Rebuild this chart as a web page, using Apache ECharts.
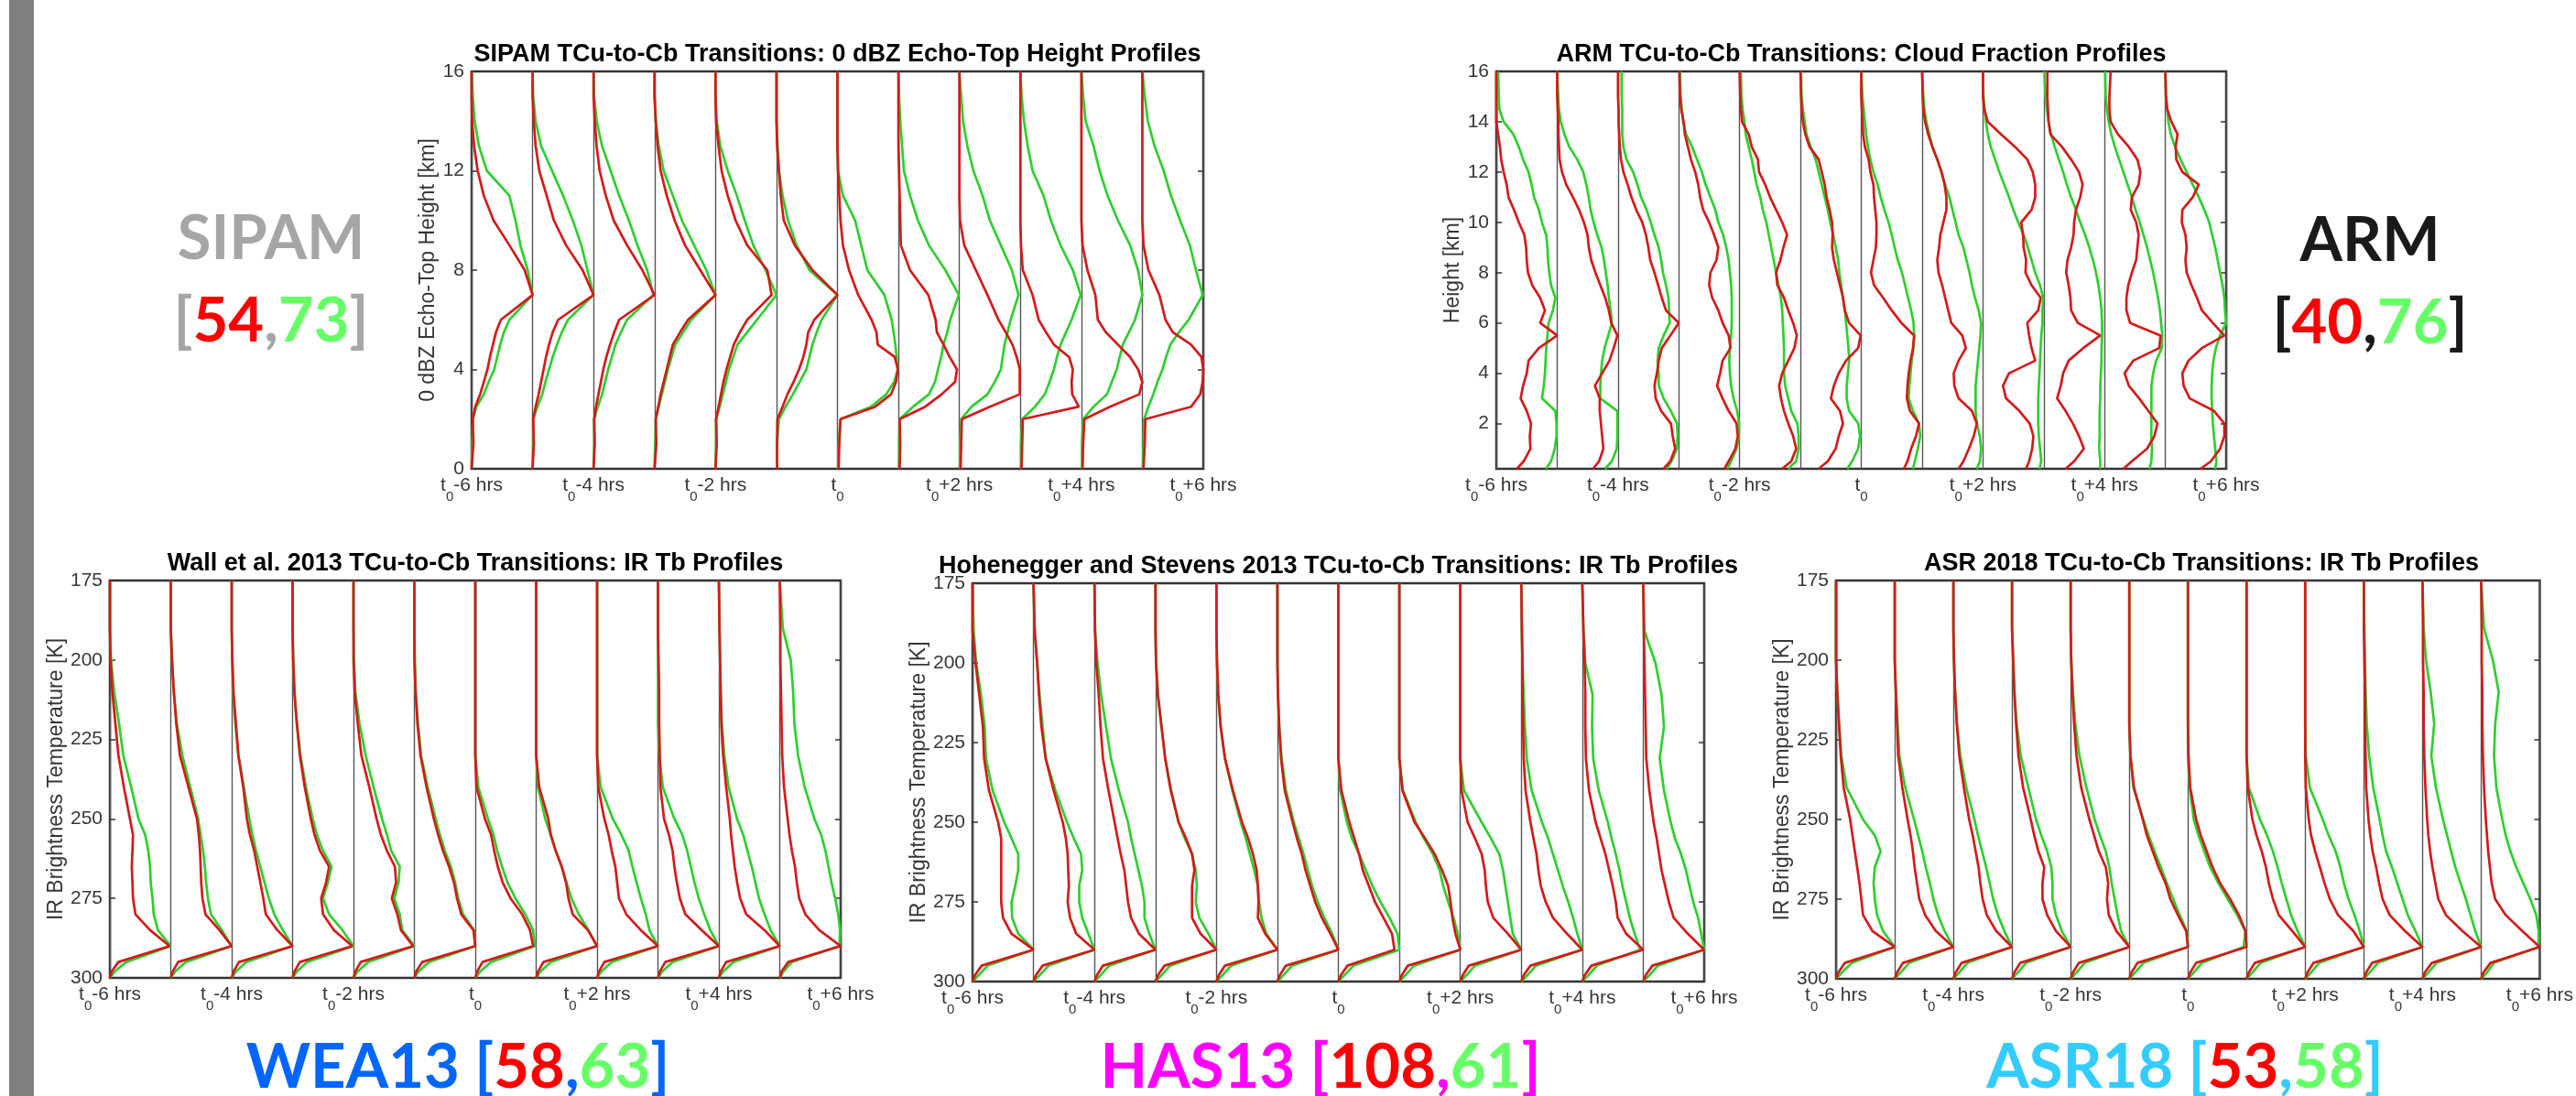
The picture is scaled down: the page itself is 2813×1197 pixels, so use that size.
<!DOCTYPE html>
<html>
<head>
<meta charset="utf-8">
<title>TCu-to-Cb transition profiles</title>
<script src="https://cdn.jsdelivr.net/npm/echarts@6/dist/echarts.min.js"></script>
<style>
  html, body { margin: 0; padding: 0; background: #fff; }
  #main { width: 2813px; height: 1197px; }
</style>
</head>
<body>
<div id="main"></div>
<script>
// hours (relative to t0) that carry a tick label; profile columns sit at t0-6 .. t0+5
const hourTicks = [-6, -4, -2, 0, 2, 4, 6];

// SIPAM: 0 dBZ echo-top height profiles (x = fraction of column width)
const sipamHeights = [0, 1, 2, 2.5, 3, 3.5, 4, 4.5, 5, 5.5, 6, 7, 8, 9, 10, 11, 12, 13, 14, 15, 16];
const sipamRed = [
  [0, .03, .02, .06, .14, .2, .26, .3, .35, .4, .48, 1.0, .87, .62, .36, .2, .1, .04, .01, 0, 0],
  [0, .02, .01, .05, .1, .14, .18, .22, .27, .33, .42, 1.0, .82, .55, .35, .23, .11, .05, .02, 0, 0],
  [0, .02, .01, .04, .08, .12, .16, .21, .27, .34, .42, 1.0, .8, .55, .33, .2, .1, .05, .02, 0, 0],
  [0, .03, .02, .06, .1, .15, .2, .25, .3, .42, .55, 1.0, .75, .5, .33, .2, .1, .05, .02, 0, 0],
  [0, .02, .01, .05, .09, .13, .18, .24, .3, .4, .52, .92, .85, .52, .33, .2, .1, .05, .01, 0, 0],
  [.01, .01, .015, .1, .18, .28, .37, .44, .49, .52, .62, 1.0, .59, .3, .12, .07, .04, .01, 0, 0, 0],
  [.02, .03, .05, .62, .88, .96, .99, .94, .66, .64, .56, .34, .19, .09, .05, .03, .01, 0, 0, 0, 0],
  [.02, .03, .02, .44, .71, .93, .96, .84, .74, .63, .61, .49, .19, .04, .03, .02, .01, 0, 0, 0, 0],
  [.02, .03, .04, .5, .99, .99, .99, .94, .87, .76, .64, .46, .27, .08, .01, 0, 0, 0, 0, 0, 0],
  [.02, .03, .04, .96, .85, .84, .86, .8, .55, .42, .3, .2, .04, .01, 0, 0, 0, 0, 0, 0, 0],
  [.02, .03, .05, .47, .95, 1.0, .93, .8, .6, .4, .27, .23, .1, .02, 0, 0, 0, 0, 0, 0, 0],
  [.02, .04, .05, .8, .95, .99, 1.0, .97, .8, .5, .38, .28, .1, .02, 0, 0, 0, 0, 0, 0, 0]
];
const sipamGreen = [
  [0, .01, .02, .08, .2, .28, .37, .42, .47, .53, .62, 1.0, .92, .8, .72, .62, .25, .12, .05, .02, 0],
  [0, .01, .01, .08, .16, .21, .27, .33, .4, .48, .58, 1.0, .9, .8, .66, .5, .32, .14, .05, .01, 0],
  [0, .01, .01, .07, .14, .19, .24, .3, .36, .45, .55, .98, .88, .72, .58, .42, .28, .14, .05, .01, 0],
  [0, .01, .02, .07, .12, .17, .22, .28, .34, .47, .6, 1.0, .85, .65, .45, .3, .15, .07, .02, 0, 0],
  [0, .01, .01, .07, .12, .17, .22, .29, .36, .52, .68, 1.0, .82, .62, .48, .35, .2, .08, .02, 0, 0],
  [.01, .01, .04, .15, .27, .38, .49, .54, .59, .66, .74, 1.0, .54, .33, .19, .1, .04, .02, 0, 0, 0],
  [.01, .02, .05, .55, .8, .93, .99, .97, .95, .92, .89, .77, .49, .39, .29, .09, .01, 0, 0, 0, 0],
  [.01, .01, .02, .24, .5, .6, .65, .7, .74, .8, .85, .99, .77, .5, .32, .19, .09, .06, .03, .01, 0],
  [.01, .01, .03, .2, .46, .58, .68, .71, .74, .79, .84, .97, .86, .68, .5, .38, .23, .13, .06, .03, 0],
  [.01, .01, .03, .24, .4, .48, .55, .6, .66, .75, .84, .99, .86, .66, .5, .38, .2, .12, .06, .02, 0],
  [.01, .01, .03, .2, .42, .5, .58, .63, .68, .78, .88, 1.0, .93, .8, .6, .43, .3, .2, .07, .03, 0],
  [.01, .02, .03, .1, .18, .25, .33, .39, .46, .6, .76, .99, .88, .78, .62, .47, .35, .2, .09, .04, 0]
];

// ARM: cloud fraction profiles
const armHeights = [0.2, 0.5, 1, 1.5, 2, 2.5, 3, 3.5, 4, 4.5, 5, 5.5, 6, 6.5, 7, 7.5, 8, 8.5, 9, 9.5, 10, 10.5, 11, 11.5, 12, 12.5, 13, 13.5, 14, 14.5, 15, 16];
const armRed = [
  [.34, .45, .56, .55, .57, .5, .4, .44, .5, .53, .7, 1.0, .72, .8, .72, .59, .52, .5, .49, .46, .37, .29, .2, .17, .12, .08, .06, .03, 0, 0, 0, 0],
  [.59, .69, .76, .74, .72, .7, .7, .62, .74, .86, .93, .99, .89, .85, .79, .71, .63, .56, .52, .5, .44, .36, .26, .15, .08, .04, .03, .02, .02, .01, 0, 0],
  [.75, .86, .94, .9, .87, .71, .62, .6, .64, .67, .72, .86, 1.0, .79, .72, .66, .6, .53, .5, .46, .4, .3, .22, .16, .09, .05, .03, .02, .01, .01, 0, 0],
  [.75, .82, .93, .97, .95, .82, .72, .63, .68, .72, .85, .82, .72, .65, .55, .5, .52, .62, .65, .58, .5, .4, .35, .32, .27, .2, .15, .1, .08, .04, .02, .01],
  [.7, .85, .93, .88, .8, .73, .68, .65, .7, .8, .9, .94, .88, .8, .73, .62, .6, .67, .72, .78, .7, .6, .5, .42, .32, .3, .2, .15, .04, .02, .01, 0],
  [.3, .45, .58, .63, .7, .65, .5, .55, .63, .75, .95, .99, .8, .73, .7, .65, .6, .55, .52, .53, .52, .48, .43, .4, .35, .3, .15, .08, .04, .02, .01, 0],
  [.7, .76, .82, .9, .95, .8, .75, .76, .78, .81, .85, .87, .66, .5, .36, .21, .16, .2, .24, .25, .25, .23, .21, .2, .15, .12, .06, .03, .02, .01, 0, 0],
  [.6, .68, .77, .85, .9, .82, .6, .53, .52, .6, .72, .66, .48, .43, .38, .33, .27, .25, .28, .3, .35, .4, .4, .37, .32, .25, .17, .1, .05, .02, .01, 0],
  [.71, .76, .81, .83, .77, .6, .38, .33, .43, .86, .8, .76, .73, .91, .95, .8, .7, .71, .67, .66, .63, .8, .86, .86, .82, .73, .53, .3, .08, .02, 0, 0],
  [.36, .5, .66, .58, .48, .36, .22, .28, .32, .41, .65, .93, .56, .45, .44, .41, .37, .39, .45, .49, .5, .53, .6, .64, .58, .45, .3, .11, .08, .07, .06, .06],
  [.31, .45, .7, .82, .87, .72, .57, .4, .33, .47, .9, .92, .42, .36, .36, .39, .45, .52, .54, .56, .52, .43, .45, .56, .59, .54, .4, .22, .1, .08, .08, .1],
  [.58, .75, .9, .97, .97, .8, .4, .3, .28, .38, .6, .97, .78, .6, .52, .43, .35, .33, .35, .33, .27, .28, .45, .55, .28, .18, .17, .2, .1, .03, .01, 0]
];
const armGreen = [
  [.82, .9, .96, .99, .99, .97, .75, .78, .8, .81, .82, .84, .86, .93, .97, .9, .87, .85, .84, .82, .75, .7, .62, .58, .53, .44, .37, .28, .12, .05, .04, .03],
  [.79, .9, .98, .99, .99, .99, .71, .71, .72, .74, .78, .84, .9, .88, .85, .83, .8, .77, .73, .66, .6, .55, .52, .48, .43, .33, .2, .12, .06, .03, .02, 0],
  [.8, .88, .97, .98, .97, .87, .75, .67, .67, .65, .67, .75, .85, .84, .83, .79, .74, .71, .67, .6, .54, .47, .38, .32, .25, .14, .09, .07, .07, .07, .06, .06],
  [.8, .86, .95, .99, .99, .96, .9, .86, .84, .83, .84, .86, .87, .87, .87, .86, .84, .82, .78, .73, .65, .6, .52, .44, .38, .3, .22, .12, .07, .05, .03, .02],
  [.8, .93, .97, .97, .95, .85, .8, .75, .73, .73, .73, .72, .71, .7, .68, .64, .6, .56, .52, .48, .44, .38, .34, .28, .24, .2, .15, .1, .08, .05, .03, .02],
  [.77, .85, .95, .98, .95, .8, .76, .76, .78, .8, .79, .77, .75, .73, .7, .67, .64, .62, .58, .54, .49, .45, .4, .35, .3, .25, .17, .1, .07, .04, .02, .01],
  [.85, .88, .93, .97, .95, .85, .78, .79, .81, .83, .86, .87, .86, .82, .77, .72, .67, .6, .55, .5, .45, .38, .32, .27, .2, .15, .11, .08, .06, .04, .02, 0],
  [.9, .95, .97, .95, .9, .88, .88, .88, .9, .92, .94, .96, .97, .93, .87, .82, .78, .73, .68, .6, .55, .5, .45, .38, .32, .25, .17, .12, .07, .04, .02, 0],
  [.93, .96, .94, .92, .91, .91, .91, .92, .93, .94, .95, .96, .98, .98, .99, .94, .86, .8, .74, .67, .58, .5, .43, .35, .27, .2, .13, .08, .05, .03, .01, 0],
  [.93, .93, .91, .92, .92, .92, .93, .93, .94, .95, .95, .96, .96, .95, .93, .9, .86, .81, .75, .68, .6, .53, .45, .38, .32, .25, .18, .12, .08, .05, .03, .01],
  [.74, .77, .78, .77, .77, .77, .77, .77, .8, .85, .94, .95, .93, .91, .88, .84, .8, .75, .7, .64, .58, .51, .45, .38, .31, .24, .17, .11, .07, .04, .02, .01],
  [.82, .84, .82, .8, .78, .77, .76, .76, .77, .79, .83, .9, 1.0, .98, .97, .94, .9, .86, .82, .77, .72, .64, .55, .45, .35, .25, .16, .09, .05, .03, .01, 0]
];

// IR brightness temperature profiles (three satellite datasets share the K levels)
const irTemps = [300, 298, 295, 290, 285, 280, 275, 270, 265, 260, 255, 250, 240, 230, 220, 210, 200, 190, 175];
const wea13Red = [
  [0, .03, .14, .98, .66, .42, .38, .37, .36, .37, .38, .33, .23, .14, .09, .04, .01, 0, 0],
  [0, .03, .12, 1.0, .8, .57, .52, .5, .49, .48, .46, .43, .29, .15, .09, .05, .02, 0, 0],
  [0, .03, .12, 1.0, .75, .56, .52, .47, .42, .37, .3, .25, .19, .11, .07, .03, .01, 0, 0],
  [0, .03, .12, .98, .68, .5, .47, .55, .6, .45, .36, .3, .2, .12, .07, .03, .01, 0, 0],
  [0, .03, .12, .98, .78, .72, .63, .7, .68, .55, .45, .38, .26, .13, .07, .02, 0, 0, 0],
  [0, .03, .13, 1.0, .97, .77, .7, .65, .57, .47, .39, .32, .2, .1, .05, .02, 0, 0, 0],
  [0, .03, .12, .95, .9, .77, .58, .45, .37, .31, .26, .16, .02, 0, 0, 0, 0, 0, 0],
  [0, .03, .12, 1.0, .85, .6, .53, .49, .42, .32, .24, .2, .05, 0, 0, 0, 0, 0, 0],
  [0, .03, .12, 1.0, .72, .48, .36, .33, .3, .24, .19, .12, .02, 0, 0, 0, 0, 0, 0],
  [0, .03, .12, 1.0, .72, .45, .36, .31, .27, .24, .18, .1, .04, .03, .02, .02, .01, 0, 0],
  [0, .03, .12, 1.0, .75, .45, .35, .3, .26, .23, .2, .18, .12, .07, .04, .03, .02, .01, 0],
  [0, .03, .14, 1.0, .65, .42, .32, .28, .25, .2, .16, .13, .07, .04, .03, .02, .01, .01, 0]
];
const wea13Green = [
  [0, .08, .27, 1.0, .79, .72, .7, .67, .66, .63, .58, .47, .35, .22, .15, .07, .02, 0, 0],
  [0, .07, .25, 1.0, .84, .66, .61, .58, .56, .53, .49, .45, .32, .19, .1, .05, .02, 0, 0],
  [0, .07, .24, 1.0, .84, .7, .61, .54, .47, .4, .34, .29, .2, .11, .06, .02, .01, 0, 0],
  [0, .07, .24, 1.0, .82, .6, .5, .58, .64, .5, .4, .33, .22, .13, .07, .03, .01, 0, 0],
  [0, .07, .24, 1.0, .8, .76, .67, .74, .76, .62, .55, .47, .33, .2, .1, .03, .01, 0, 0],
  [0, .07, .24, 1.0, .98, .8, .72, .67, .6, .5, .42, .35, .22, .11, .06, .02, .01, 0, 0],
  [0, .08, .26, .98, .95, .82, .66, .53, .44, .36, .3, .21, .05, 0, 0, 0, 0, 0, 0],
  [0, .07, .24, 1.0, .86, .7, .58, .5, .42, .32, .24, .15, .03, 0, 0, 0, 0, 0, 0],
  [0, .07, .24, 1.0, .86, .8, .72, .65, .58, .52, .4, .26, .06, 0, 0, 0, 0, 0, 0],
  [0, .07, .24, 1.0, .86, .76, .67, .6, .54, .48, .4, .27, .08, .02, 0, 0, 0, 0, 0],
  [0, .07, .24, 1.0, .85, .75, .66, .6, .54, .47, .4, .3, .16, .09, .05, .03, .02, .01, 0],
  [0, .06, .2, .98, .99, .96, .91, .85, .8, .75, .68, .57, .41, .3, .24, .22, .18, .05, 0]
];
const has13Red = [
  [0, .04, .15, 1.0, .64, .5, .47, .47, .47, .47, .47, .42, .27, .19, .17, .11, .05, 0, 0],
  [0, .04, .15, 1.0, .7, .6, .56, .58, .57, .56, .53, .48, .33, .2, .13, .09, .06, .02, 0],
  [0, .04, .14, 1.0, .73, .6, .55, .52, .49, .43, .38, .33, .23, .14, .1, .07, .03, .01, 0],
  [0, .04, .15, 1.0, .74, .6, .6, .6, .64, .6, .5, .38, .25, .16, .1, .04, .01, 0, 0],
  [0, .04, .14, 1.0, .8, .68, .69, .68, .66, .6, .52, .42, .27, .14, .07, .03, .01, 0, 0],
  [0, .04, .14, 1.0, .87, .73, .62, .54, .46, .4, .32, .25, .12, .06, .03, .01, 0, 0, 0],
  [0, .04, .15, .92, .88, .74, .6, .5, .4, .34, .26, .18, .05, 0, 0, 0, 0, 0, 0],
  [0, .04, .14, 1.0, .92, .87, .84, .8, .7, .58, .42, .25, .05, 0, 0, 0, 0, 0, 0],
  [0, .04, .14, 1.0, .78, .54, .45, .42, .4, .35, .24, .12, .02, 0, 0, 0, 0, 0, 0],
  [0, .04, .15, 1.0, .75, .52, .4, .32, .28, .25, .2, .15, .07, .04, .03, .02, .02, .01, 0],
  [0, .04, .15, 1.0, .72, .58, .55, .5, .44, .38, .3, .22, .11, .06, .05, .05, .04, .02, 0],
  [0, .04, .15, 1.0, .73, .5, .42, .36, .3, .26, .22, .17, .1, .05, .04, .03, .02, .01, 0]
];
const has13Green = [
  [0, .1, .25, 1.0, .75, .65, .64, .7, .75, .75, .64, .52, .33, .22, .2, .14, .06, .02, 0],
  [0, .1, .25, 1.0, .9, .8, .75, .75, .8, .78, .66, .55, .36, .2, .15, .1, .06, .02, 0],
  [0, .1, .24, 1.0, .9, .82, .82, .78, .72, .66, .6, .55, .4, .27, .19, .11, .05, .01, 0],
  [0, .1, .24, 1.0, .87, .72, .66, .68, .66, .6, .48, .38, .26, .16, .1, .04, .01, 0, 0],
  [0, .1, .24, 1.0, .82, .74, .7, .68, .62, .55, .48, .4, .26, .14, .07, .03, .01, 0, 0],
  [0, .1, .24, 1.0, .9, .77, .66, .57, .5, .43, .35, .27, .14, .07, .03, .01, 0, 0, 0],
  [0, .1, .25, 1.0, .97, .84, .69, .56, .45, .34, .22, .14, .03, 0, 0, 0, 0, 0, 0],
  [0, .1, .24, 1.0, .96, .89, .8, .72, .66, .55, .4, .27, .06, 0, 0, 0, 0, 0, 0],
  [0, .1, .24, 1.0, .86, .82, .78, .74, .7, .64, .5, .35, .06, 0, 0, 0, 0, 0, 0],
  [0, .1, .24, 1.0, .92, .85, .77, .68, .6, .52, .44, .34, .17, .09, .06, .04, .02, .01, 0],
  [0, .1, .24, .95, .86, .78, .72, .66, .61, .55, .48, .42, .27, .18, .16, .17, .05, .02, 0],
  [0, .1, .24, 1.0, .95, .9, .82, .76, .7, .62, .52, .45, .34, .27, .34, .3, .2, .02, 0]
];
const asr18Red = [
  [0, .04, .15, 1.0, .62, .46, .43, .4, .36, .32, .28, .24, .13, .08, .05, .02, 0, 0, 0],
  [0, .04, .14, 1.0, .7, .52, .42, .38, .34, .31, .27, .22, .13, .06, .04, .02, 0, 0, 0],
  [0, .04, .14, 1.0, .73, .57, .5, .46, .43, .38, .33, .27, .18, .1, .06, .03, .01, 0, 0],
  [0, .04, .14, 1.0, .75, .6, .52, .52, .55, .45, .38, .32, .19, .11, .07, .04, .02, 0, 0],
  [0, .04, .14, 1.0, .78, .65, .62, .64, .6, .48, .4, .32, .18, .1, .06, .03, .01, 0, 0],
  [0, .04, .14, 1.0, .97, .83, .7, .62, .5, .4, .3, .23, .08, .02, 0, 0, 0, 0, 0],
  [0, .04, .14, 1.0, .98, .87, .72, .55, .42, .32, .22, .14, .04, .01, 0, 0, 0, 0, 0],
  [0, .04, .14, 1.0, .78, .55, .45, .38, .33, .26, .17, .1, .02, 0, 0, 0, 0, 0, 0],
  [0, .04, .14, 1.0, .82, .56, .42, .33, .25, .17, .1, .06, .01, 0, 0, 0, 0, 0, 0],
  [0, .04, .14, 1.0, .7, .44, .32, .26, .21, .15, .11, .08, .04, .03, .02, .02, .01, 0, 0],
  [0, .04, .16, 1.0, .68, .4, .27, .22, .17, .13, .1, .08, .05, .03, .02, .02, .01, .01, 0],
  [0, .04, .16, 1.0, .7, .42, .24, .18, .15, .12, .1, .08, .05, .03, .02, .02, .01, .01, 0]
];
const asr18Green = [
  [0, .1, .27, 1.0, .8, .7, .66, .64, .66, .76, .66, .46, .18, .09, .05, .02, 0, 0, 0],
  [0, .1, .25, 1.0, .85, .74, .66, .6, .53, .47, .4, .33, .18, .08, .05, .02, 0, 0, 0],
  [0, .1, .24, 1.0, .87, .76, .68, .62, .56, .49, .42, .36, .22, .12, .06, .03, .01, 0, 0],
  [0, .1, .24, 1.0, .85, .75, .69, .69, .67, .6, .5, .41, .28, .15, .08, .04, .02, 0, 0],
  [0, .1, .24, 1.0, .86, .8, .75, .7, .66, .6, .5, .41, .27, .15, .08, .04, .01, 0, 0],
  [0, .1, .24, 1.0, .98, .86, .75, .64, .54, .43, .33, .24, .07, .02, 0, 0, 0, 0, 0],
  [0, .1, .24, .95, .98, .84, .68, .52, .38, .28, .18, .1, .03, 0, 0, 0, 0, 0, 0],
  [0, .1, .24, 1.0, .87, .76, .68, .6, .53, .45, .35, .23, .04, 0, 0, 0, 0, 0, 0],
  [0, .1, .24, 1.0, .93, .84, .74, .66, .6, .52, .4, .3, .08, .01, 0, 0, 0, 0, 0],
  [0, .1, .24, 1.0, .88, .75, .66, .57, .48, .38, .32, .27, .16, .09, .05, .03, .02, .01, 0],
  [0, .1, .24, 1.0, .9, .82, .74, .65, .56, .49, .42, .35, .23, .15, .2, .14, .06, .02, 0],
  [0, .1, .22, .98, .98, .94, .84, .72, .6, .5, .42, .36, .26, .22, .24, .3, .2, .05, 0]
];

// dataset tags with their [red, green] case counts
const tagNames = ['SIPAM', 'ARM', 'WEA13', 'HAS13', 'ASR18'];
const redCounts = [54, 40, 58, 108, 53];
const greenCounts = [73, 76, 63, 61, 58];

const RED = '#d41a1a';
const GREEN = '#2ecf2e';
const FONT = '"Liberation Sans", Arial, sans-serif';
const INK = '#363636';

const panels = [
  { title: 'SIPAM TCu-to-Cb Transitions: 0 dBZ Echo-Top Height Profiles', yName: '0 dBZ Echo-Top Height [km]',
    heights: sipamHeights, red: sipamRed, green: sipamGreen,
    grid: { left: 515, top: 78, width: 799, height: 434 }, y: { min: 0, max: 16, interval: 4 }, nameGap: 36 },
  { title: 'ARM TCu-to-Cb Transitions: Cloud Fraction Profiles', yName: 'Height [km]',
    heights: armHeights, red: armRed, green: armGreen,
    grid: { left: 1634, top: 78, width: 797, height: 434 }, y: { min: 0.2, max: 16, ticks: [2, 4, 6, 8, 10, 12, 14, 16] }, nameGap: 36 },
  { title: 'Wall et al. 2013 TCu-to-Cb Transitions: IR Tb Profiles', yName: 'IR Brightness Temperature [K]',
    heights: irTemps, red: wea13Red, green: wea13Green,
    grid: { left: 120, top: 634, width: 798, height: 434 }, y: { min: 175, max: 300, interval: 25, inverse: true }, nameGap: 47 },
  { title: 'Hohenegger and Stevens 2013 TCu-to-Cb Transitions: IR Tb Profiles', yName: 'IR Brightness Temperature [K]',
    heights: irTemps, red: has13Red, green: has13Green,
    grid: { left: 1062, top: 637, width: 799, height: 435 }, y: { min: 175, max: 300, interval: 25, inverse: true }, nameGap: 47 },
  { title: 'ASR 2018 TCu-to-Cb Transitions: IR Tb Profiles', yName: 'IR Brightness Temperature [K]',
    heights: irTemps, red: asr18Red, green: asr18Green,
    grid: { left: 2005, top: 634, width: 798, height: 435 }, y: { min: 175, max: 300, interval: 25, inverse: true }, nameGap: 47 }
];

function hourLabel(h) {
  if (h === 0) return '{t|t}{s|0}';
  return '{t|t}{s|0}{t|' + (h > 0 ? '+' : '-') + Math.abs(h) + ' hrs}';
}

const grids = [], xAxes = [], yAxes = [], series = [], titles = [];

panels.forEach((p, i) => {
  grids.push(Object.assign({ show: true, borderColor: '#333', borderWidth: 2.5, backgroundColor: 'transparent' }, p.grid));
  titles.push({
    text: p.title, left: p.grid.left + p.grid.width / 2, top: p.grid.top - 32, textAlign: 'center', padding: 0,
    textStyle: { fontFamily: FONT, fontSize: 27, fontWeight: 'bold', color: '#000' }
  });
  xAxes.push({
    type: 'value', gridIndex: i, min: 0, max: 12, interval: 1,
    axisLine: { show: false }, axisTick: { show: false },
    splitLine: { show: true, lineStyle: { color: '#555', width: 1.4 } },
    axisLabel: {
      margin: 8,
      formatter: v => hourTicks.includes(v - 6) ? hourLabel(v - 6) : '',
      rich: {
        t: { fontFamily: FONT, fontSize: 21, color: INK, lineHeight: 23, verticalAlign: 'top' },
        s: { fontFamily: FONT, fontSize: 15, color: INK, lineHeight: 15, verticalAlign: 'top', padding: [15, 0, 0, 0] }
      }
    }
  });
  const yBase = {
    type: 'value', gridIndex: i, min: p.y.min, max: p.y.max, inverse: !!p.y.inverse,
    axisLine: { show: false }, splitLine: { show: false },
    axisTick: { show: true, inside: true, length: 6, lineStyle: { color: '#333', width: 1.5 } }
  };
  if (p.y.interval) yBase.interval = p.y.interval;
  if (p.y.ticks) yBase.axisTick.customValues = p.y.ticks;
  const yLeft = Object.assign({}, yBase, {
    position: 'left',
    axisLabel: { margin: 8, fontFamily: FONT, fontSize: 21, color: INK },
    name: p.yName, nameLocation: 'middle', nameGap: p.nameGap,
    nameTextStyle: { fontFamily: FONT, fontSize: 23, color: INK }
  });
  if (p.y.ticks) yLeft.axisLabel.customValues = p.y.ticks;
  const yRight = Object.assign({}, yBase, { position: 'right', axisLabel: { show: false } });
  yAxes.push(yLeft, yRight);

  [[p.green, GREEN, 2], [p.red, RED, 3]].forEach(([cols, color, z]) => {
    cols.forEach((vals, c) => {
      series.push({
        type: 'line', xAxisIndex: i, yAxisIndex: i * 2, z: z,
        data: vals.map((v, k) => [c + v, p.heights[k]]),
        showSymbol: false, symbol: 'none', silent: true,
        lineStyle: { color: color, width: 2.7 }, itemStyle: { color: color }
      });
    });
  });
});

// large coloured dataset tags
const tagStyle = [
  { color: '#a6a6a6', x: 296, y: 306, twoLines: true },
  { color: '#1a1a1a', x: 2588, y: 308, twoLines: true },
  { color: '#0066ff', x: 500, y: 1166 },
  { color: '#ff00ff', x: 1442, y: 1166 },
  { color: '#33ccff', x: 2386, y: 1166 }
];
const tagGraphics = tagNames.map((name, i) => {
  const st = tagStyle[i];
  const counts = '{n|[}{r|' + redCounts[i] + '}{n|,}{g|' + greenCounts[i] + '}{n|]}';
  const base = { fontFamily: 'Lato, "Open Sans", sans-serif', fontSize: 67, fontWeight: 'bold', lineHeight: 90 };
  return {
    type: 'text', x: st.x, y: st.y, z: 10,
    style: {
      text: st.twoLines ? '{n|' + name + '}\n' + counts : '{n|' + name + ' }' + counts,
      align: 'center', verticalAlign: 'middle',
      rich: {
        n: Object.assign({ fill: st.color }, base),
        r: Object.assign({ fill: '#ff0000' }, base),
        g: Object.assign({ fill: '#66ff66' }, base)
      }
    }
  };
});

const chart = echarts.init(document.getElementById('main'));
chart.setOption({
  backgroundColor: '#ffffff',
  animation: false,
  title: titles,
  grid: grids,
  xAxis: xAxes,
  yAxis: yAxes,
  series: series,
  graphic: [
    { type: 'rect', shape: { x: 10, y: 0, width: 27, height: 1197 }, style: { fill: '#7f7f7f' }, z: 10 }
  ].concat(tagGraphics)
});
</script>
</body>
</html>
